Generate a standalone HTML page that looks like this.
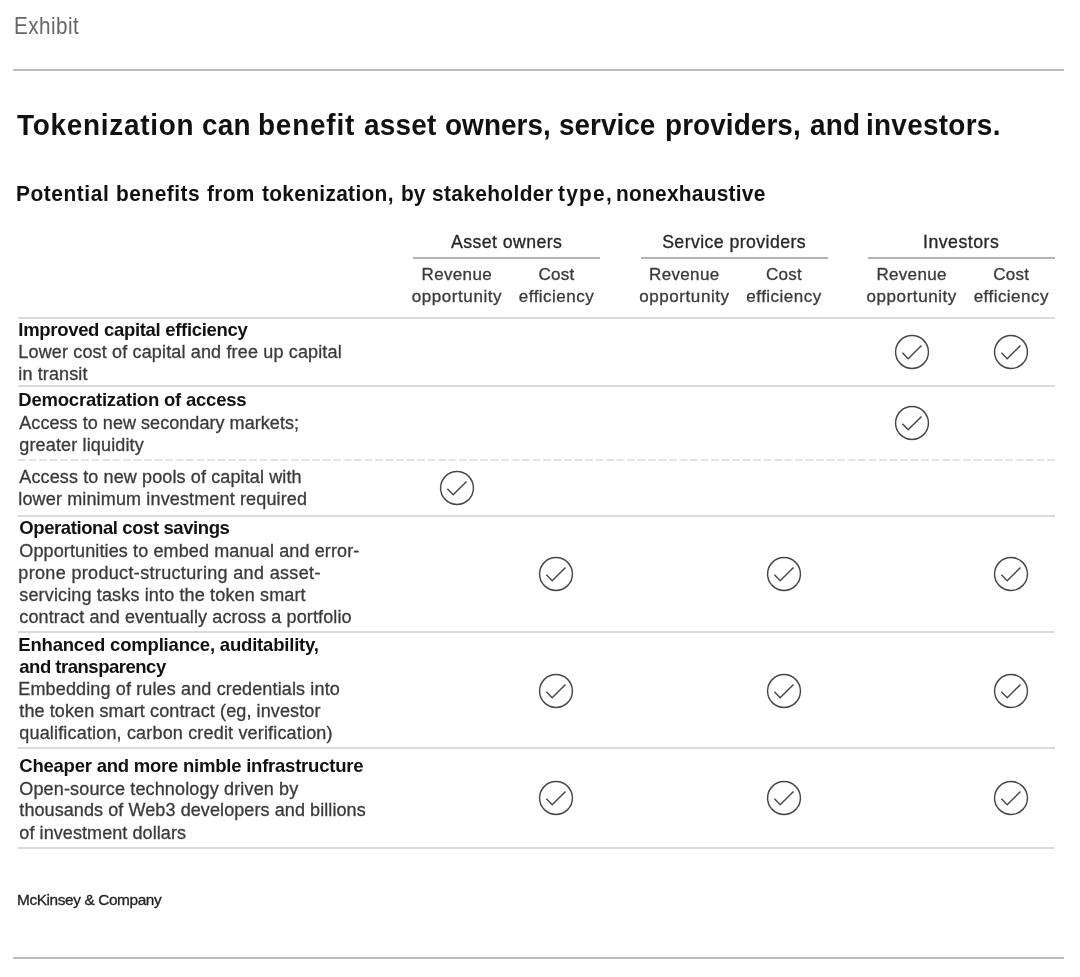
<!DOCTYPE html>
<html><head><meta charset="utf-8"><style>
html,body{margin:0;padding:0;background:#fff;}
body{width:1080px;height:977px;position:relative;overflow:hidden;font-family:"Liberation Sans", sans-serif;}
.t{position:absolute;white-space:nowrap;}
#w{position:absolute;left:0;top:0;width:1080px;height:977px;background:#fff;will-change:transform;}
</style></head><body><div id="w">
<div style="position:absolute;left:13px;top:69.00px;width:1051px;height:2px;background:#bebebe"></div>
<div style="position:absolute;left:413px;top:257.00px;width:187px;height:2px;background:#b3b3b3"></div>
<div style="position:absolute;left:640.5px;top:257.00px;width:187.0px;height:2px;background:#b3b3b3"></div>
<div style="position:absolute;left:868px;top:257.00px;width:187px;height:2px;background:#b3b3b3"></div>
<div style="position:absolute;left:18px;top:317.00px;width:1037px;height:2px;background:#dadada"></div>
<div style="position:absolute;left:18px;top:385.00px;width:1037px;height:2px;background:#dadada"></div>
<div style="position:absolute;left:18px;top:515.00px;width:1037px;height:2px;background:#dadada"></div>
<div style="position:absolute;left:18px;top:631.00px;width:1037px;height:2px;background:#dadada"></div>
<div style="position:absolute;left:18px;top:747.00px;width:1037px;height:2px;background:#dadada"></div>
<div style="position:absolute;left:18px;top:847.00px;width:1037px;height:2px;background:#dadada"></div>
<div style="position:absolute;left:13px;top:957.20px;width:1051px;height:2px;background:#bebebe"></div>
<svg style="position:absolute;left:18px;top:459px" width="1037" height="2"><line x1="0" y1="1" x2="1037" y2="1" stroke="#dcdcdc" stroke-width="1.3" stroke-dasharray="8 2.5"/></svg>
<div class="t" style="left:13.54px;top:11.38px;font-size:24px;line-height:29px;font-weight:300;color:#666;letter-spacing:0.528px;transform:scaleX(0.86);transform-origin:0 0">Exhibit</div>
<div class="t" style="left:17.00px;top:107.00px;font-size:30px;line-height:36px;font-weight:700;color:#111;letter-spacing:0.801px;transform:scaleX(0.93);transform-origin:0 0">Tokenization</div>
<div class="t" style="left:201.77px;top:107.00px;font-size:30px;line-height:36px;font-weight:700;color:#111;letter-spacing:0.200px;transform:scaleX(0.93);transform-origin:0 0">can</div>
<div class="t" style="left:258.37px;top:107.00px;font-size:30px;line-height:36px;font-weight:700;color:#111;letter-spacing:0.855px;transform:scaleX(0.93);transform-origin:0 0">benefit</div>
<div class="t" style="left:363.90px;top:107.00px;font-size:30px;line-height:36px;font-weight:700;color:#111;letter-spacing:0.278px;transform:scaleX(0.93);transform-origin:0 0">asset</div>
<div class="t" style="left:444.67px;top:107.00px;font-size:30px;line-height:36px;font-weight:700;color:#111;letter-spacing:0.079px;transform:scaleX(0.93);transform-origin:0 0">owners,</div>
<div class="t" style="left:559.47px;top:107.00px;font-size:30px;line-height:36px;font-weight:700;color:#111;letter-spacing:-0.005px;transform:scaleX(0.93);transform-origin:0 0">service</div>
<div class="t" style="left:665.17px;top:107.00px;font-size:30px;line-height:36px;font-weight:700;color:#111;letter-spacing:0.093px;transform:scaleX(0.93);transform-origin:0 0">providers,</div>
<div class="t" style="left:809.80px;top:107.00px;font-size:30px;line-height:36px;font-weight:700;color:#111;letter-spacing:0.200px;transform:scaleX(0.93);transform-origin:0 0">and</div>
<div class="t" style="left:866.24px;top:107.00px;font-size:30px;line-height:36px;font-weight:700;color:#111;letter-spacing:0.310px;transform:scaleX(0.93);transform-origin:0 0">investors.</div>
<div class="t" style="left:16.45px;top:180.58px;font-size:22px;line-height:26px;font-weight:700;color:#111;letter-spacing:0.586px;transform:scaleX(0.95);transform-origin:0 0">Potential</div>
<div class="t" style="left:115.55px;top:180.58px;font-size:22px;line-height:26px;font-weight:700;color:#111;letter-spacing:0.518px;transform:scaleX(0.95);transform-origin:0 0">benefits</div>
<div class="t" style="left:207.10px;top:180.58px;font-size:22px;line-height:26px;font-weight:700;color:#111;letter-spacing:0.312px;transform:scaleX(0.95);transform-origin:0 0">from</div>
<div class="t" style="left:262.20px;top:180.58px;font-size:22px;line-height:26px;font-weight:700;color:#111;letter-spacing:0.327px;transform:scaleX(0.95);transform-origin:0 0">tokenization,</div>
<div class="t" style="left:400.95px;top:180.58px;font-size:22px;line-height:26px;font-weight:700;color:#111;letter-spacing:0.000px;transform:scaleX(0.95);transform-origin:0 0">by</div>
<div class="t" style="left:432.00px;top:180.58px;font-size:22px;line-height:26px;font-weight:700;color:#111;letter-spacing:0.375px;transform:scaleX(0.95);transform-origin:0 0">stakeholder</div>
<div class="t" style="left:558.00px;top:180.58px;font-size:22px;line-height:26px;font-weight:700;color:#111;letter-spacing:1.310px;transform:scaleX(0.95);transform-origin:0 0">type,</div>
<div class="t" style="left:616.05px;top:180.58px;font-size:22px;line-height:26px;font-weight:700;color:#111;letter-spacing:0.266px;transform:scaleX(0.95);transform-origin:0 0">nonexhaustive</div>
<div class="t" style="left:451.00px;top:232.07px;font-size:17.7px;line-height:21px;font-weight:400;color:#262626;letter-spacing:0.425px;-webkit-text-stroke:0.3px #262626">Asset owners</div>
<div class="t" style="left:662.15px;top:232.07px;font-size:17.7px;line-height:21px;font-weight:400;color:#262626;letter-spacing:0.432px;-webkit-text-stroke:0.3px #262626">Service providers</div>
<div class="t" style="left:923.00px;top:232.07px;font-size:17.7px;line-height:21px;font-weight:400;color:#262626;letter-spacing:0.510px;-webkit-text-stroke:0.3px #262626">Investors</div>
<div class="t" style="left:421.60px;top:265.21px;font-size:17px;line-height:20px;font-weight:400;color:#3a3a3a;letter-spacing:0.334px;-webkit-text-stroke:0.3px #3a3a3a">Revenue</div>
<div class="t" style="left:411.75px;top:287.21px;font-size:17px;line-height:20px;font-weight:400;color:#3a3a3a;letter-spacing:0.569px;-webkit-text-stroke:0.3px #3a3a3a">opportunity</div>
<div class="t" style="left:649.10px;top:265.21px;font-size:17px;line-height:20px;font-weight:400;color:#3a3a3a;letter-spacing:0.334px;-webkit-text-stroke:0.3px #3a3a3a">Revenue</div>
<div class="t" style="left:639.25px;top:287.21px;font-size:17px;line-height:20px;font-weight:400;color:#3a3a3a;letter-spacing:0.569px;-webkit-text-stroke:0.3px #3a3a3a">opportunity</div>
<div class="t" style="left:876.40px;top:265.21px;font-size:17px;line-height:20px;font-weight:400;color:#3a3a3a;letter-spacing:0.334px;-webkit-text-stroke:0.3px #3a3a3a">Revenue</div>
<div class="t" style="left:866.55px;top:287.21px;font-size:17px;line-height:20px;font-weight:400;color:#3a3a3a;letter-spacing:0.569px;-webkit-text-stroke:0.3px #3a3a3a">opportunity</div>
<div class="t" style="left:538.50px;top:265.21px;font-size:17px;line-height:20px;font-weight:400;color:#3a3a3a;letter-spacing:0.256px;-webkit-text-stroke:0.3px #3a3a3a">Cost</div>
<div class="t" style="left:518.85px;top:287.21px;font-size:17px;line-height:20px;font-weight:400;color:#3a3a3a;letter-spacing:0.471px;-webkit-text-stroke:0.3px #3a3a3a">efficiency</div>
<div class="t" style="left:766.00px;top:265.21px;font-size:17px;line-height:20px;font-weight:400;color:#3a3a3a;letter-spacing:0.256px;-webkit-text-stroke:0.3px #3a3a3a">Cost</div>
<div class="t" style="left:746.35px;top:287.21px;font-size:17px;line-height:20px;font-weight:400;color:#3a3a3a;letter-spacing:0.471px;-webkit-text-stroke:0.3px #3a3a3a">efficiency</div>
<div class="t" style="left:993.30px;top:265.21px;font-size:17px;line-height:20px;font-weight:400;color:#3a3a3a;letter-spacing:0.256px;-webkit-text-stroke:0.3px #3a3a3a">Cost</div>
<div class="t" style="left:973.65px;top:287.21px;font-size:17px;line-height:20px;font-weight:400;color:#3a3a3a;letter-spacing:0.471px;-webkit-text-stroke:0.3px #3a3a3a">efficiency</div>
<div class="t" style="left:18.30px;top:318.99px;font-size:18.5px;line-height:22px;font-weight:700;color:#111;letter-spacing:-0.308px">Improved capital efficiency</div>
<div class="t" style="left:18.30px;top:341.46px;font-size:18px;line-height:22px;font-weight:400;color:#3a3a3a;letter-spacing:0.155px;-webkit-text-stroke:0.3px #3a3a3a">Lower cost of capital and free up capital</div>
<div class="t" style="left:18.30px;top:363.46px;font-size:18px;line-height:22px;font-weight:400;color:#3a3a3a;letter-spacing:0.130px;-webkit-text-stroke:0.3px #3a3a3a">in transit</div>
<div class="t" style="left:18.30px;top:389.09px;font-size:18.5px;line-height:22px;font-weight:700;color:#111;letter-spacing:-0.213px">Democratization of access</div>
<div class="t" style="left:19.30px;top:412.26px;font-size:18px;line-height:22px;font-weight:400;color:#3a3a3a;letter-spacing:0.051px;-webkit-text-stroke:0.3px #3a3a3a">Access to new secondary markets;</div>
<div class="t" style="left:19.30px;top:434.46px;font-size:18px;line-height:22px;font-weight:400;color:#3a3a3a;letter-spacing:0.149px;-webkit-text-stroke:0.3px #3a3a3a">greater liquidity</div>
<div class="t" style="left:19.30px;top:465.56px;font-size:18px;line-height:22px;font-weight:400;color:#3a3a3a;letter-spacing:0.120px;-webkit-text-stroke:0.3px #3a3a3a">Access to new pools of capital with</div>
<div class="t" style="left:18.30px;top:487.56px;font-size:18px;line-height:22px;font-weight:400;color:#3a3a3a;letter-spacing:0.144px;-webkit-text-stroke:0.3px #3a3a3a">lower minimum investment required</div>
<div class="t" style="left:19.30px;top:517.29px;font-size:18.5px;line-height:22px;font-weight:700;color:#111;letter-spacing:-0.410px">Operational cost savings</div>
<div class="t" style="left:19.30px;top:540.06px;font-size:18px;line-height:22px;font-weight:400;color:#3a3a3a;letter-spacing:0.123px;-webkit-text-stroke:0.3px #3a3a3a">Opportunities to embed manual and error-</div>
<div class="t" style="left:18.30px;top:561.76px;font-size:18px;line-height:22px;font-weight:400;color:#3a3a3a;letter-spacing:0.341px;-webkit-text-stroke:0.3px #3a3a3a">prone product-structuring and asset-</div>
<div class="t" style="left:19.30px;top:583.96px;font-size:18px;line-height:22px;font-weight:400;color:#3a3a3a;letter-spacing:0.148px;-webkit-text-stroke:0.3px #3a3a3a">servicing tasks into the token smart</div>
<div class="t" style="left:19.30px;top:605.96px;font-size:18px;line-height:22px;font-weight:400;color:#3a3a3a;letter-spacing:0.123px;-webkit-text-stroke:0.3px #3a3a3a">contract and eventually across a portfolio</div>
<div class="t" style="left:18.30px;top:633.79px;font-size:18.5px;line-height:22px;font-weight:700;color:#111;letter-spacing:-0.194px">Enhanced compliance, auditability,</div>
<div class="t" style="left:19.30px;top:655.59px;font-size:18.5px;line-height:22px;font-weight:700;color:#111;letter-spacing:-0.489px">and transparency</div>
<div class="t" style="left:18.30px;top:678.46px;font-size:18px;line-height:22px;font-weight:400;color:#3a3a3a;letter-spacing:0.140px;-webkit-text-stroke:0.3px #3a3a3a">Embedding of rules and credentials into</div>
<div class="t" style="left:19.30px;top:699.96px;font-size:18px;line-height:22px;font-weight:400;color:#3a3a3a;letter-spacing:0.107px;-webkit-text-stroke:0.3px #3a3a3a">the token smart contract (eg, investor</div>
<div class="t" style="left:19.30px;top:722.46px;font-size:18px;line-height:22px;font-weight:400;color:#3a3a3a;letter-spacing:0.172px;-webkit-text-stroke:0.3px #3a3a3a">qualification, carbon credit verification)</div>
<div class="t" style="left:19.30px;top:754.79px;font-size:18.5px;line-height:22px;font-weight:700;color:#111;letter-spacing:-0.228px">Cheaper and more nimble infrastructure</div>
<div class="t" style="left:19.30px;top:777.66px;font-size:18px;line-height:22px;font-weight:400;color:#3a3a3a;letter-spacing:0.156px;-webkit-text-stroke:0.3px #3a3a3a">Open-source technology driven by</div>
<div class="t" style="left:19.30px;top:799.46px;font-size:18px;line-height:22px;font-weight:400;color:#3a3a3a;letter-spacing:0.088px;-webkit-text-stroke:0.3px #3a3a3a">thousands of Web3 developers and billions</div>
<div class="t" style="left:19.30px;top:822.06px;font-size:18px;line-height:22px;font-weight:400;color:#3a3a3a;letter-spacing:0.081px;-webkit-text-stroke:0.3px #3a3a3a">of investment dollars</div>
<div class="t" style="left:17.00px;top:891.36px;font-size:15.4px;line-height:18px;font-weight:400;color:#222;letter-spacing:-0.394px;-webkit-text-stroke:0.3px #222">McKinsey &amp; Company</div>
<svg style="position:absolute;left:891.70px;top:331.70px" width="40" height="40" viewBox="-20 -20 40 40"><circle cx="0" cy="0" r="16.45" fill="none" stroke="#474747" stroke-width="1.45"/><polyline points="-9.6,0.8 -3.8,6.8 9.5,-6.6" fill="none" stroke="#474747" stroke-width="1.45" stroke-linejoin="miter"/></svg>
<svg style="position:absolute;left:991.30px;top:331.70px" width="40" height="40" viewBox="-20 -20 40 40"><circle cx="0" cy="0" r="16.45" fill="none" stroke="#474747" stroke-width="1.45"/><polyline points="-9.6,0.8 -3.8,6.8 9.5,-6.6" fill="none" stroke="#474747" stroke-width="1.45" stroke-linejoin="miter"/></svg>
<svg style="position:absolute;left:891.70px;top:403.00px" width="40" height="40" viewBox="-20 -20 40 40"><circle cx="0" cy="0" r="16.45" fill="none" stroke="#474747" stroke-width="1.45"/><polyline points="-9.6,0.8 -3.8,6.8 9.5,-6.6" fill="none" stroke="#474747" stroke-width="1.45" stroke-linejoin="miter"/></svg>
<svg style="position:absolute;left:436.90px;top:468.00px" width="40" height="40" viewBox="-20 -20 40 40"><circle cx="0" cy="0" r="16.45" fill="none" stroke="#474747" stroke-width="1.45"/><polyline points="-9.6,0.8 -3.8,6.8 9.5,-6.6" fill="none" stroke="#474747" stroke-width="1.45" stroke-linejoin="miter"/></svg>
<svg style="position:absolute;left:536.20px;top:554.30px" width="40" height="40" viewBox="-20 -20 40 40"><circle cx="0" cy="0" r="16.45" fill="none" stroke="#474747" stroke-width="1.45"/><polyline points="-9.6,0.8 -3.8,6.8 9.5,-6.6" fill="none" stroke="#474747" stroke-width="1.45" stroke-linejoin="miter"/></svg>
<svg style="position:absolute;left:764.00px;top:554.30px" width="40" height="40" viewBox="-20 -20 40 40"><circle cx="0" cy="0" r="16.45" fill="none" stroke="#474747" stroke-width="1.45"/><polyline points="-9.6,0.8 -3.8,6.8 9.5,-6.6" fill="none" stroke="#474747" stroke-width="1.45" stroke-linejoin="miter"/></svg>
<svg style="position:absolute;left:991.30px;top:554.30px" width="40" height="40" viewBox="-20 -20 40 40"><circle cx="0" cy="0" r="16.45" fill="none" stroke="#474747" stroke-width="1.45"/><polyline points="-9.6,0.8 -3.8,6.8 9.5,-6.6" fill="none" stroke="#474747" stroke-width="1.45" stroke-linejoin="miter"/></svg>
<svg style="position:absolute;left:536.20px;top:671.10px" width="40" height="40" viewBox="-20 -20 40 40"><circle cx="0" cy="0" r="16.45" fill="none" stroke="#474747" stroke-width="1.45"/><polyline points="-9.6,0.8 -3.8,6.8 9.5,-6.6" fill="none" stroke="#474747" stroke-width="1.45" stroke-linejoin="miter"/></svg>
<svg style="position:absolute;left:764.00px;top:671.10px" width="40" height="40" viewBox="-20 -20 40 40"><circle cx="0" cy="0" r="16.45" fill="none" stroke="#474747" stroke-width="1.45"/><polyline points="-9.6,0.8 -3.8,6.8 9.5,-6.6" fill="none" stroke="#474747" stroke-width="1.45" stroke-linejoin="miter"/></svg>
<svg style="position:absolute;left:991.30px;top:671.10px" width="40" height="40" viewBox="-20 -20 40 40"><circle cx="0" cy="0" r="16.45" fill="none" stroke="#474747" stroke-width="1.45"/><polyline points="-9.6,0.8 -3.8,6.8 9.5,-6.6" fill="none" stroke="#474747" stroke-width="1.45" stroke-linejoin="miter"/></svg>
<svg style="position:absolute;left:536.20px;top:778.30px" width="40" height="40" viewBox="-20 -20 40 40"><circle cx="0" cy="0" r="16.45" fill="none" stroke="#474747" stroke-width="1.45"/><polyline points="-9.6,0.8 -3.8,6.8 9.5,-6.6" fill="none" stroke="#474747" stroke-width="1.45" stroke-linejoin="miter"/></svg>
<svg style="position:absolute;left:764.00px;top:778.30px" width="40" height="40" viewBox="-20 -20 40 40"><circle cx="0" cy="0" r="16.45" fill="none" stroke="#474747" stroke-width="1.45"/><polyline points="-9.6,0.8 -3.8,6.8 9.5,-6.6" fill="none" stroke="#474747" stroke-width="1.45" stroke-linejoin="miter"/></svg>
<svg style="position:absolute;left:991.30px;top:778.30px" width="40" height="40" viewBox="-20 -20 40 40"><circle cx="0" cy="0" r="16.45" fill="none" stroke="#474747" stroke-width="1.45"/><polyline points="-9.6,0.8 -3.8,6.8 9.5,-6.6" fill="none" stroke="#474747" stroke-width="1.45" stroke-linejoin="miter"/></svg>
</div></body></html>
